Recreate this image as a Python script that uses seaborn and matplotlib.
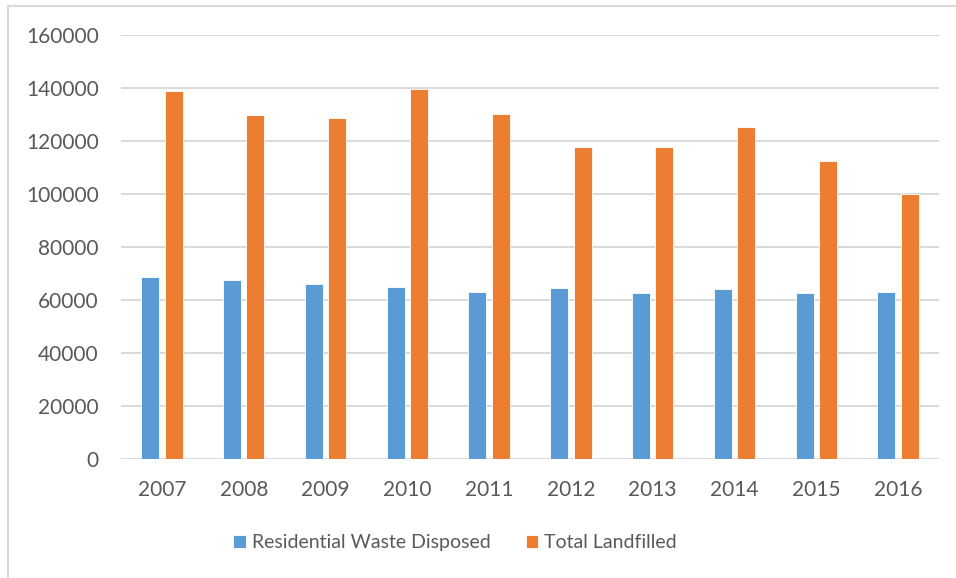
import pandas as pd
import matplotlib
matplotlib.use("Agg")
import matplotlib.pyplot as plt
from matplotlib.patches import Rectangle
import seaborn as sns

# values
years = ["2007", "2008", "2009", "2010", "2011", "2012", "2013", "2014", "2015", "2016"]
residential = [68800, 67700, 65900, 64900, 63000, 64400, 62800, 64150, 62650, 63000]
landfilled = [138750, 129900, 128800, 139600, 130300, 117700, 117850, 125150, 112550, 99900]
series_names = ["Residential Waste Disposed", "Total Landfilled"]
y_ticks = [0, 20000, 40000, 60000, 80000, 100000, 120000, 140000, 160000]

colors = ["#5b9bd5", "#ed7d31"]
text_color = "#595959"
grid_color = "#d9d9d9"

df = pd.DataFrame({
    "Year": years * 2,
    "Value": residential + landfilled,
    "Series": [series_names[0]] * len(years) + [series_names[1]] * len(years),
})

sns.set_theme(style="white")
plt.rcParams["font.family"] = ["Lato", "DejaVu Sans"]

fig = plt.figure(figsize=(9.56, 5.78), dpi=100)
ax = fig.add_axes([0.1266, 0.2059, 0.8556, 0.7336])

sns.barplot(data=df, x="Year", y="Value", hue="Series", hue_order=series_names,
            palette=colors, width=0.57, gap=0.23, ax=ax,
            edgecolor="white", linewidth=0.6, saturation=1)

ax.set_ylim(0, 160000)
ax.set_xlim(-0.5, len(years) - 0.5)
ax.set_yticks(y_ticks)
ax.set_yticklabels([str(t) for t in y_ticks])
ax.set_xlabel("")
ax.set_ylabel("")
ax.set_axisbelow(True)
ax.yaxis.grid(True, color=grid_color, linewidth=1.4)
for s in ax.spines.values():
    s.set_visible(False)
ax.tick_params(axis="y", length=0, pad=16, labelsize=15, labelcolor=text_color)
ax.tick_params(axis="x", length=0, pad=15, labelsize=15, labelcolor=text_color)

handles, labels = ax.get_legend_handles_labels()
ax.get_legend().remove()
fig.legend(handles, labels, loc="center", bbox_to_anchor=(0.476, 0.0606), ncol=2,
           frameon=False, fontsize=14, labelcolor=text_color,
           handlelength=0.65, handleheight=0.65, handletextpad=0.3,
           columnspacing=1.8)

# light outer frame of the original chart (only left/top edge visible)
fig.patches.append(Rectangle((8 / 956, -0.1), 1.2, 1.1 - 6 / 578,
                             transform=fig.transFigure, fill=False,
                             edgecolor="#d9d9d9", linewidth=1.5))

fig.savefig("out.png", dpi=100)
